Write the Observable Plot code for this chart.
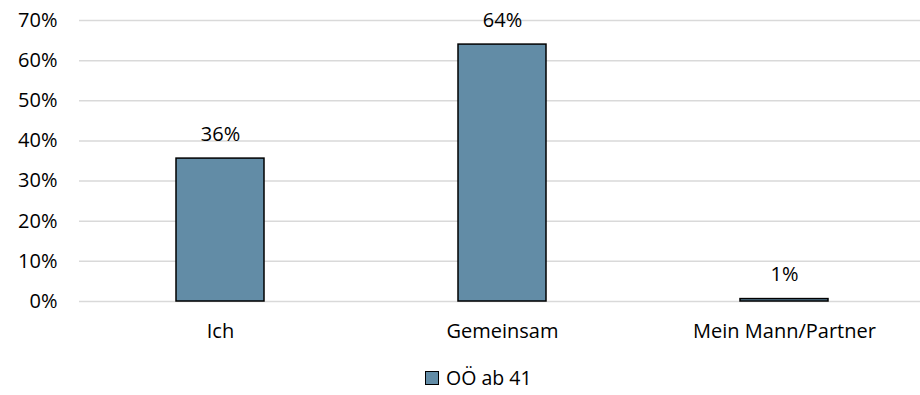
<!DOCTYPE html>
<html>
<head>
<meta charset="utf-8">
<script src="https://cdn.jsdelivr.net/npm/d3@7"></script>
<script src="https://cdn.jsdelivr.net/npm/@observablehq/plot@0.6"></script>
<style>
  html, body { margin: 0; padding: 0; background: #fff; overflow: hidden; }
  #wrap { position: relative; width: 920px; height: 395px; font-family: "Open Sans", sans-serif; }
  #legend { position: absolute; left: 425px; top: 367px; display: flex; align-items: center; font-size: 19.5px; color: #000; line-height: 22px; height: 22px; }
  #legend .sw { width: 12px; height: 12px; border: 1px solid #000; margin-right: 7px; }
</style>
</head>
<body>
<div id="wrap"><div id="chart"></div><div id="legend"></div></div>
<script>
const categories = ["Ich", "Gemeinsam", "Mein Mann/Partner"];
const values = [35.6, 64.0, 0.6];
const yTicks = [0, 10, 20, 30, 40, 50, 60, 70];
const seriesName = "OÖ ab 41";
const barColor = "#628ca6";

const data = categories.map((c, i) => ({category: c, value: values[i]}));

const W = 920, H = 360;
const chart = Plot.plot({
  width: W,
  height: H,
  marginLeft: 79,
  marginRight: 0,
  marginTop: 20,
  marginBottom: H - 301,
  style: {fontFamily: "Open Sans", fontSize: "20px", color: "#000", background: "#fff"},
  x: {type: "band", domain: categories, range: [79, 925], paddingInner: 0.6875, paddingOuter: 0.34375, label: null},
  y: {domain: [0, 70], label: null},
  marks: [
    Plot.ruleY(yTicks, {stroke: "#d9d9d9", strokeWidth: 1.5}),
    Plot.barY(data, {x: "category", y: "value", fill: barColor, stroke: "#000", strokeWidth: 1.5}),
    Plot.text(data, {x: "category", y: "value", text: d => Math.round(d.value) + "%", dy: -24, fontSize: 20, fill: "#000"}),
    Plot.axisY(yTicks, {tickSize: 0, tickPadding: 22, tickFormat: d => d + "%", label: null, fontSize: 20}),
    Plot.axisX({tickSize: 0, tickPadding: 22, label: null, fontSize: 20})
  ]
});
document.getElementById("chart").appendChild(chart);

const lg = document.getElementById("legend");
const sw = document.createElement("div");
sw.className = "sw";
sw.style.background = barColor;
const tx = document.createElement("span");
tx.textContent = seriesName;
lg.appendChild(sw);
lg.appendChild(tx);
</script>
</body>
</html>
